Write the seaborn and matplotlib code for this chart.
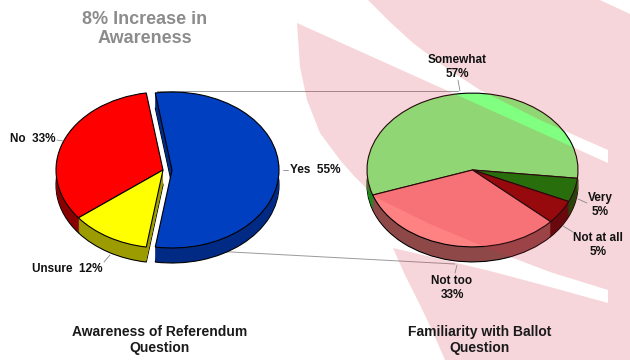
import matplotlib
matplotlib.use('Agg')
import matplotlib.pyplot as plt
import seaborn as sns
from matplotlib.patches import Polygon

# chart data
aware_labels = ['Yes', 'No', 'Unsure']
aware_pct = [55, 33, 12]
familiar_labels = ['Somewhat', 'Very', 'Not at all', 'Not too']
familiar_pct = [57, 5, 5, 33]

aware_top = ['#0040C0', '#FF0000', '#FFFF00']
aware_side = ['#002A84', '#880000', '#9C9C00']
familiar_top = ['#80FF80', '#007D00', '#880000', '#FF8282']
familiar_side = ['#1E8A1E', '#004800', '#500000', '#8E4848']

sns.set_theme(style='white')
plt.rcParams['font.family'] = ['Liberation Sans', 'DejaVu Sans']

W, H = 630, 360
K = 78 / 107  # vertical squash of the tilted pies

fig = plt.figure(figsize=(6.3, 3.6), dpi=100)
ax = fig.add_axes([0, 0, 1, 1])


def px(x, y):
    # pixel position (from top-left) -> data coords
    return x, (H - y) / K


def pie3d(values, top, side, cx, cy, r, start, ccw, explode=None, depth=15):
    x, y = px(cx, cy)
    for d in range(depth, 0, -1):
        ax.pie(values, colors=side, startangle=start, counterclock=ccw,
               explode=explode, center=(x, y - d / K), radius=r, frame=True,
               wedgeprops=dict(linewidth=0.8 if d == depth else 0,
                               edgecolor='black'))
    wedges, _ = ax.pie(values, colors=top, startangle=start, counterclock=ccw,
                       explode=explode, center=(x, y), radius=r, frame=True,
                       wedgeprops=dict(linewidth=0.8, edgecolor='black'))
    return wedges


# connector lines between the two pies
for (x0, y0), (x1, y1) in [((157, 91), (458, 91)), ((157, 248), (455, 264))]:
    a, b = px(x0, y0), px(x1, y1)
    ax.plot([a[0], b[0]], [a[1], b[1]], color='#9A9A9A', lw=0.7, zorder=0.5)

# explode is in data units here (radius is ~107)
pie3d(aware_pct, aware_top, aware_side, 163, 170, 107, -99, True,
      explode=[9, 0, 0])
pie3d(familiar_pct, familiar_top, familiar_side, 472.5, 170, 105.5, 199, False)

# decorative pink swoosh laid over the background
swoosh = [(297, 23), (608, 163), (608, 150), (540, 120), (480, 90), (445, 67),
          (413, 43), (390, 22), (368, 0), (600, 0), (630, 14), (630, 360),
          (445, 360), (432, 330), (420, 305), (405, 275), (393, 248),
          (440, 259), (490, 271), (550, 287), (608, 303), (608, 290),
          (550, 272), (487, 248), (430, 224), (375, 197), (355, 177),
          (340, 160), (320, 133), (307, 100), (300, 67)]
ax.add_patch(Polygon([px(*p) for p in swoosh], closed=True,
                     facecolor='#D23246', edgecolor='none', alpha=0.2,
                     zorder=3))

# slice labels
lab_kw = dict(fontsize=8.5, fontweight='bold', color='#111111', zorder=6,
              linespacing=1.15)
ax.text(*px(56, 139), f'{aware_labels[1]}  {aware_pct[1]}%', ha='right',
        va='center', **lab_kw)
ax.text(*px(290, 170), f'{aware_labels[0]}  {aware_pct[0]}%', ha='left',
        va='center', **lab_kw)
ax.text(*px(32, 269), f'{aware_labels[2]}  {aware_pct[2]}%', ha='left',
        va='center', **lab_kw)
fam_pos = [(457, 67), (600, 205), (598, 245), (452, 288)]
for lab, pct, (x, y) in zip(familiar_labels, familiar_pct, fam_pos):
    ax.text(*px(x, y), f'{lab}\n{pct}%', ha='center', va='center', **lab_kw)

leaders = [((57, 140), (63, 141)), ((283, 170), (288, 170)),
           ((104, 262), (110, 255)), ((458, 80), (460, 91)),
           ((587, 203), (578, 199)), ((573, 232), (563, 226)),
           ((455, 273), (457, 265))]
for (x0, y0), (x1, y1) in leaders:
    a, b = px(x0, y0), px(x1, y1)
    ax.plot([a[0], b[0]], [a[1], b[1]], color='#888888', lw=0.6, zorder=5)

# titles
ax.text(*px(145, 29), '8% Increase in\nAwareness', ha='center', va='center',
        fontsize=13, fontweight='bold', color='#8C8C8C', linespacing=1.2,
        zorder=6)
ax.text(*px(160, 340), 'Awareness of Referendum\nQuestion', ha='center',
        va='center', fontsize=10, fontweight='bold', color='#1A1A1A',
        linespacing=1.15, zorder=6)
ax.text(*px(480, 340), 'Familiarity with Ballot\nQuestion', ha='center',
        va='center', fontsize=10, fontweight='bold', color='#1A1A1A',
        linespacing=1.15, zorder=6)

ax.set_aspect('auto')
ax.set_xlim(0, W)
ax.set_ylim(0, H / K)
ax.axis('off')

fig.savefig('out.png', dpi=100)
